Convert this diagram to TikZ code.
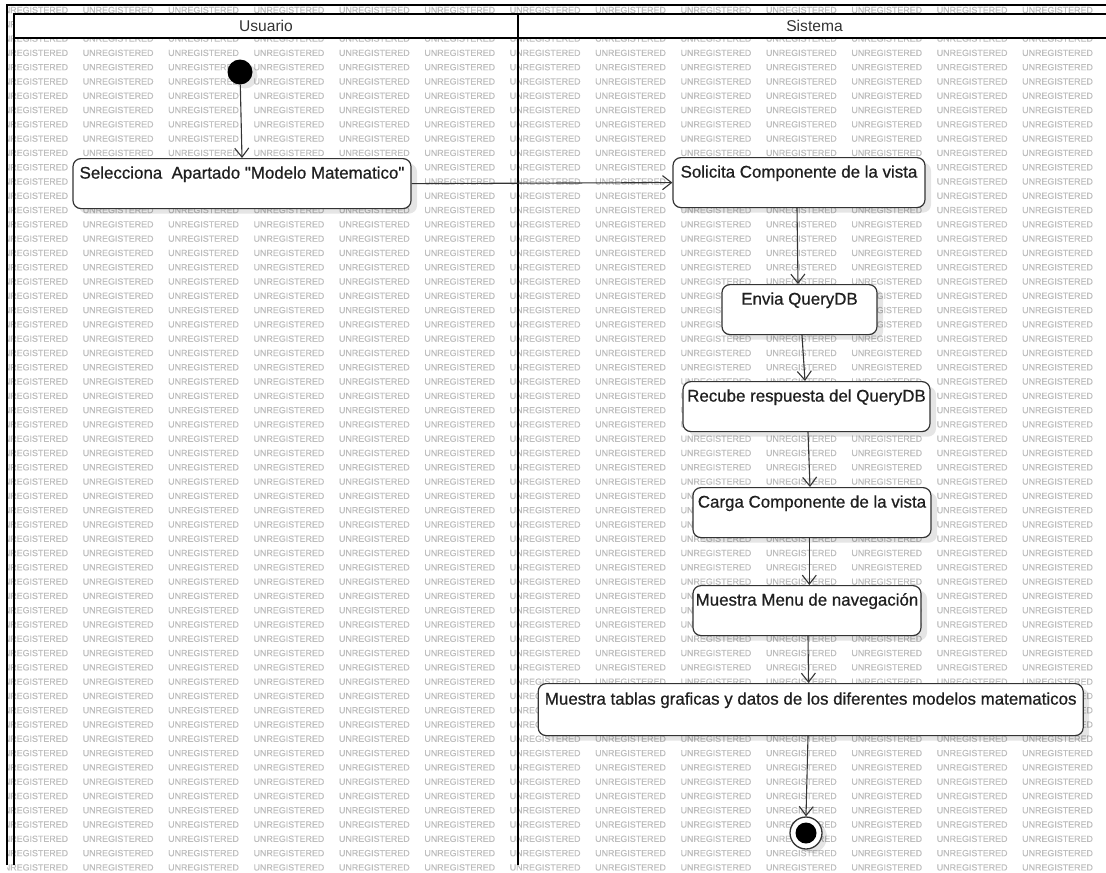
\documentclass[tikz,border=0pt]{standalone}
\usepackage{fontspec}
\setmainfont{Liberation Sans}
\newfontfamily\boxfont[FakeBold=0.7]{Liberation Sans}
\newfontfamily\wmfont[FakeBold=0.4]{Liberation Sans}
\usetikzlibrary{arrows.meta,shadows}
\definecolor{wm}{gray}{0.74}
\definecolor{ln}{HTML}{333333}
\tikzset{
  actbox/.style={draw=ln, line width=1.2pt, rounded corners=8pt, fill=white,
    font=\boxfont\fontsize{16.9}{20}\selectfont, text=black!88,
    inner xsep=0pt, inner ysep=0pt, text height=20pt, text depth=30pt, anchor=north,
    drop shadow={shadow xshift=6pt, shadow yshift=-5pt, fill=black, opacity=0.1}},
  flow/.style={draw=ln, line width=1.1pt, -{Straight Barb[length=9pt,width=14pt,line width=1.1pt]}},
  lane/.style={draw=black, line width=2pt},
  wmtext/.style={font=\wmfont\fontsize{8.9}{9}\selectfont, text=wm, inner sep=0pt, anchor=west},
  hdr/.style={font=\fontsize{15.6}{18}\selectfont, text=black!80, inner sep=0pt}
}
\begin{document}
\begin{tikzpicture}[x=1pt,y=-1pt]
\useasboundingbox (0,0) rectangle (1106,873);
\fill[white] (0,0) rectangle (1106,873);
% watermark
\begin{scope}
  \clip (7.3,5) rectangle (1106,873);
  \foreach \r in {0,...,60} {
    \foreach \c in {0,...,12} {
      \node[wmtext] (wm-\r-\c) at ({-2.8+85.4*\c},{10+14.29*\r}) {UNREGISTERED};
    }
  }
\end{scope}
% frame and swimlanes
\draw[lane] (7.3,865) -- (7.3,5) -- (1112,5);
\draw[lane, fill=white] (14.3,13.5) rectangle (518,38);
\draw[lane, fill=white] (518,13.5) rectangle (1112,38);
\draw[lane] (14.3,38) -- (14.3,865);
\draw[lane] (518,38) -- (518,865);
\node[hdr] (husr) at (266,26) {Usuario};
\node[hdr] (hsis) at (814.5,26) {Sistema};
% nodes
\node[circle, fill=black, minimum size=25pt, inner sep=0pt,
  drop shadow={shadow xshift=5pt, shadow yshift=-4pt, fill=black, opacity=0.1}] (init) at (240,72) {};
\node[actbox, minimum width=338pt] (sel) at (242,158) {Selecciona\ \ Apartado "Modelo Matematico"};
\node[actbox, minimum width=252pt] (sol) at (799,157) {Solicita Componente de la vista};
\node[actbox, minimum width=155pt] (env) at (799.5,284) {Envia QueryDB};
\node[actbox, minimum width=247pt] (rec) at (806.5,381) {Recube respuesta del QueryDB};
\node[actbox, minimum width=238pt] (car) at (812,487) {Carga Componente de la vista};
\node[actbox, minimum width=228pt] (men) at (807,585) {Muestra Menu de navegación};
\node[actbox, minimum width=545pt, text height=21pt, text depth=31pt] (tab) at (810.7,683) {Muestra tablas graficas y datos de los diferentes modelos matematicos};
\node[circle, draw=ln, line width=1.3pt, fill=white, minimum size=32pt, inner sep=0pt,
  drop shadow={shadow xshift=5pt, shadow yshift=-4pt, fill=black, opacity=0.1}] (fin) at (806,833) {};
\node[circle, fill=black, minimum size=21pt, inner sep=0pt] (finc) at (fin.center) {};
% connectors
\draw[flow] (init) -- (sel.north);
\draw[flow] (sel.east) -- (sol.west);
\draw[flow] ([xshift=-2pt]sol.south) -- ([xshift=-1.5pt]env.north);
\draw[flow] ([xshift=2.5pt]env.south) -- ([xshift=-1.5pt]rec.north);
\draw[flow] ([xshift=1.5pt]rec.south) -- ([xshift=-2pt]car.north);
\draw[flow] ([xshift=-2.7pt]car.south) -- ([xshift=2.3pt]men.north);
\draw[flow] ([xshift=1pt]men.south) -- ([xshift=-2.2pt]tab.north);
\draw[flow] ([xshift=-2.7pt]tab.south) -- (fin.north);
\end{tikzpicture}
\end{document}
